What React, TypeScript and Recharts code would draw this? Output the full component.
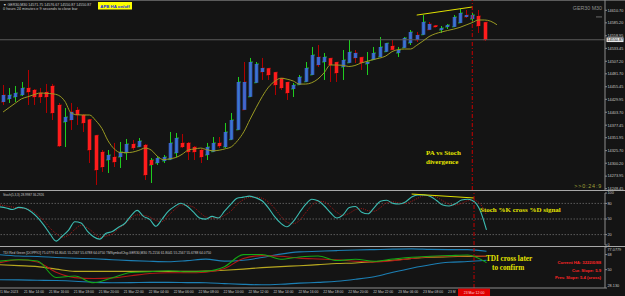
import React from "react";
import { ComposedChart, Bar, Line, XAxis, YAxis, ReferenceLine } from "recharts";

// GER30 M30 bars
const opens = [
  14424.5, 14430.6, 14434.6, 14438.7, 14452.9, 14448.9, 14442.8, 14444.8, 14457.0, 14418.4,
  14383.9, 14387.9, 14408.3, 14398.1, 14389.0, 14357.0, 14323.0, 14306.7, 14312.8, 14312.8,
  14320.9, 14339.2, 14333.5, 14337.2, 14306.7, 14300.6, 14304.7, 14307.5, 14320.9, 14341.3,
  14341.3, 14333.1, 14327.0, 14316.9, 14323.5, 14341.3, 14333.1, 14348.0, 14368.0, 14408.5,
  14435.0, 14463.5, 14485.4, 14493.0, 14485.0, 14473.0, 14465.0, 14450.9, 14459.5, 14465.5,
  14479.5, 14499.6, 14505.7, 14513.5, 14505.5, 14495.6, 14504.0, 14513.9, 14515.5, 14501.7,
  14510.0, 14516.0, 14526.5, 14538.2, 14524.0, 14534.5, 14544.3, 14550.4, 14561.0, 14571.0,
  14579.8, 14570.7, 14576.8, 14577.0, 14585.0, 14597.1, 14593.0, 14599.1, 14586.5,
];
const highs = [
  14459.0, 14452.9, 14457.0, 14465.1, 14489.5, 14450.9, 14452.9, 14461.1, 14461.1, 14422.5,
  14412.3, 14422.5, 14414.3, 14400.1, 14390.0, 14357.5, 14327.0, 14327.0, 14341.3, 14343.3,
  14349.4, 14347.4, 14351.4, 14339.2, 14310.8, 14314.8, 14316.9, 14363.6, 14361.6, 14359.5,
  14343.3, 14335.1, 14329.0, 14341.3, 14353.4, 14353.4, 14381.9, 14402.2, 14475.3, 14505.7,
  14513.9, 14505.7, 14513.9, 14493.5, 14485.4, 14473.2, 14465.1, 14463.1, 14479.3, 14505.7,
  14536.2, 14540.2, 14524.0, 14513.9, 14505.7, 14530.1, 14550.4, 14530.1, 14515.9, 14526.0,
  14536.2, 14556.5, 14544.3, 14550.4, 14536.2, 14556.5, 14570.7, 14566.6, 14601.1, 14586.9,
  14580.8, 14578.8, 14582.9, 14601.1, 14613.3, 14611.3, 14605.2, 14611.3, 14586.9,
];
const lows = [
  14418.4, 14422.5, 14424.5, 14436.7, 14418.4, 14418.4, 14422.5, 14402.2, 14387.9, 14333.1,
  14333.1, 14367.7, 14377.8, 14363.6, 14300.6, 14256.0, 14282.4, 14280.3, 14292.5, 14290.5,
  14306.7, 14327.0, 14333.1, 14266.1, 14260.0, 14296.6, 14300.6, 14306.7, 14312.8, 14331.1,
  14306.7, 14306.7, 14300.6, 14306.7, 14323.0, 14331.1, 14331.1, 14347.4, 14367.7, 14408.3,
  14434.6, 14463.1, 14469.2, 14469.2, 14438.7, 14448.9, 14428.6, 14434.6, 14459.0, 14465.1,
  14479.3, 14495.6, 14469.2, 14465.1, 14465.1, 14469.2, 14503.7, 14503.7, 14489.5, 14479.3,
  14509.8, 14515.9, 14526.0, 14530.1, 14515.9, 14534.2, 14540.2, 14546.3, 14560.5, 14570.7,
  14575.8, 14564.6, 14572.7, 14576.8, 14584.9, 14595.0, 14584.9, 14564.6, 14548.4,
];
const closes = [
  14438.7, 14438.7, 14442.8, 14452.9, 14444.8, 14434.6, 14434.6, 14434.6, 14402.2, 14335.1,
  14394.0, 14404.2, 14398.1, 14381.9, 14327.0, 14286.4, 14292.5, 14316.9, 14302.7, 14323.0,
  14339.2, 14331.1, 14345.3, 14276.3, 14296.6, 14310.8, 14312.8, 14341.3, 14351.4, 14333.1,
  14323.0, 14323.0, 14312.8, 14333.1, 14341.3, 14335.1, 14363.6, 14387.9, 14465.1, 14465.1,
  14505.7, 14501.7, 14493.5, 14479.3, 14459.0, 14452.9, 14442.8, 14459.0, 14475.3, 14493.5,
  14519.9, 14515.9, 14515.9, 14499.6, 14483.4, 14509.8, 14526.0, 14524.0, 14503.7, 14505.7,
  14524.0, 14536.2, 14544.0, 14530.5, 14530.1, 14554.5, 14566.6, 14560.5, 14586.9, 14582.9,
  14576.8, 14574.7, 14580.8, 14597.1, 14605.2, 14601.1, 14601.1, 14578.8, 14550.87,
];
// 1 = green (up) wick of the plain bar, 0 = red wick
const wickUp = [
  0, 1, 1, 1, 0, 0, 0, 0, 0, 0,
  1, 0, 0, 0, 0, 0, 0, 1, 0, 1,
  1, 0, 1, 0, 1, 1, 1, 1, 1, 0,
  0, 0, 0, 1, 1, 0, 1, 1, 1, 0,
  1, 1, 0, 0, 0, 0, 0, 1, 1, 1,
  1, 0, 1, 0, 0, 1, 1, 0, 0, 1,
  1, 1, 1, 0, 1, 1, 1, 0, 1, 0,
  0, 1, 1, 1, 1, 0, 1, 0, 0,
];
// shifted moving average (runs 2 bars past the last candle)
const maValues = [
  14404.2, 14413.3, 14422.3, 14431.0, 14435.1, 14439.3, 14442.8, 14442.0, 14441.1, 14437.9,
  14426.1, 14402.6, 14398.5, 14398.1, 14398.1, 14386.9, 14370.9, 14345.7, 14329.3, 14321.9,
  14321.7, 14322.8, 14326.4, 14330.9, 14326.8, 14314.2, 14307.4, 14309.2, 14311.8, 14318.3,
  14327.0, 14329.1, 14330.9, 14327.6, 14325.4, 14326.6, 14329.5, 14333.7, 14346.3, 14364.0,
  14389.2, 14413.3, 14435.9, 14454.7, 14466.5, 14472.8, 14470.8, 14467.1, 14460.9, 14460.9,
  14463.7, 14471.2, 14483.8, 14499.6, 14499.6, 14499.0, 14496.6, 14498.6, 14503.7, 14507.3,
  14510.8, 14513.6, 14517.9, 14526.8, 14530.9, 14532.1, 14532.1, 14539.6, 14548.1, 14557.3,
  14563.0, 14566.6, 14569.7, 14572.5, 14576.0, 14580.9, 14585.7, 14591.0, 14591.0, 14588.4,
  14581.3,
];
const priceTicks = [
  14610.7, 14585.2, 14558.95, 14533.45, 14507.2, 14481.7, 14455.45, 14429.95,
  14403.7, 14377.45, 14351.95, 14325.7, 14300.2, 14273.95, 14248.45,
];

// Stochastic(5,3,3)
const stochK = [
  73.3, 71.3, 68.3, 72.3, 70.6, 64.0, 53.1, 38.8, 21.7, 7.5,
  17.3, 28.7, 44.8, 42.3, 26.9, 16.0, 11.3, 22.5, 25.8, 34.0,
  41.3, 56.2, 66.5, 55.0, 49.2, 36.0, 50.0, 65.2, 74.2, 80.4,
  74.4, 63.7, 52.1, 49.8, 55, 52, 65, 78, 90, 92,
  94, 91, 85, 72, 55, 42, 35, 45, 62, 78,
  88, 85, 75, 62, 52, 58, 72, 74, 63, 60,
  72, 84, 86, 80, 78.8, 82.7, 92.3, 96.2, 96.2, 93.3,
  85.6, 76.9, 75.0, 79.2, 86.5, 87.9, 83.8, 66.0, 29.0,
];
const stochD = [
  77, 75, 73, 71, 70, 67, 58, 47, 33, 22,
  15, 19, 30, 38, 33, 24, 15, 17, 21, 31,
  40, 52, 58, 57, 54, 47, 45, 57, 68, 77,
  76, 73, 63, 54, 52, 52, 57, 65, 78, 87,
  92, 92, 90, 83, 71, 56, 44, 41, 47, 62,
  76, 84, 83, 74, 63, 57, 61, 68, 70, 66,
  65, 72, 81, 83, 81, 80, 84, 90, 95, 95,
  92, 85, 79, 77, 80, 85, 86, 79, 58,
];

// TDI, sampled every third bar
const tdiBars = [0, 3, 6, 9, 12, 15, 18, 21, 24, 27, 30, 33, 36, 39, 42, 45, 48, 51, 54, 57, 60, 63, 66, 69, 72, 75, 78];
const tdiUpper = [67.9, 66.3, 65.7, 64.6, 63.7, 63.0, 61.9, 60.8, 60.0, 59.5, 60.8, 62.6, 60.2, 61.2, 64.6, 68.6, 71.2, 72.0, 72.8, 73.5, 74.0, 74.5, 74.8, 74.2, 74.0, 74.0, 72.0];
const tdiLower = [38.0, 37.8, 37.4, 37.0, 36.2, 34.9, 34.4, 34.5, 34.8, 34.8, 34.6, 34.4, 33.4, 32.5, 32.0, 32.6, 33.9, 34.9, 36.1, 38.5, 41.6, 46.9, 51.8, 55.9, 58.8, 59.7, 61.2];
const tdiBase = [55.9, 54.8, 53.7, 50.7, 48.0, 48.0, 48.0, 48.0, 48.0, 48.0, 48.0, 48.3, 49.4, 50.7, 52.4, 53.7, 54.7, 56.0, 57.3, 58.0, 59.5, 61.2, 63.4, 64.8, 65.5, 65.8, 66.0];
const tdiRsi = [60.2, 61.8, 60.3, 40.6, 42.4, 34.4, 40.4, 46.6, 47.5, 48.8, 47.6, 48.2, 53.6, 68.0, 68.2, 62.5, 65.2, 66.4, 61.0, 62.5, 60.1, 62.7, 64.9, 66.0, 66.8, 67.6, 58.4];
const tdiSignal = [58.4, 61.9, 59.2, 46.9, 40.5, 39.4, 40.2, 42.7, 45.4, 46.4, 46.3, 47.0, 51.4, 63.4, 66.8, 66.0, 63.8, 62.8, 61.9, 60.1, 59.2, 60.7, 63.3, 65.4, 66.1, 66.7, 66.0];
const tdiMax = 77.0779;
const tdiMin = 28.13;

// time axis: a label every 4 bars, the cursor bar is highlighted
const timeLabels = [
  "21 Mar 2023", "21 Mar 14:00", "21 Mar 16:00", "21 Mar 18:00", "21 Mar 20:00",
  "21 Mar 22:00", "22 Mar 04:00", "22 Mar 06:00", "22 Mar 08:00", "22 Mar 10:00",
  "22 Mar 12:00", "22 Mar 14:00", "22 Mar 16:00", "22 Mar 18:00", "22 Mar 20:00",
  "22 Mar 22:00", "23 Mar 06:00", "23 Mar 08:00", "23 Mar 10:00",
];
const cursorBar = 76;
const cursorLabel = "23 Mar 12:00";

const SLOTS = 98;
const PLOT_W = 605;
const FONT = "'Liberation Sans', Arial, sans-serif";
const SERIF = "'Liberation Serif', 'Times New Roman', serif";
const TXT = "#c8c8c8";
const AXIS = "#8c8c8c";
const CURSOR = "#c80000";

const rows = Array.from({ length: SLOTS }, (_, i) => {
  const r: any = { i };
  if (i < opens.length) {
    r.range = [lows[i], highs[i]];
    r.o = opens[i];
    r.h = highs[i];
    r.l = lows[i];
    r.c = closes[i];
    r.wu = wickUp[i];
  }
  if (i < maValues.length) r.ma = maValues[i];
  if (i < stochK.length) {
    r.k = stochK[i];
    r.d = stochD[i];
  }
  const t = tdiBars.indexOf(i);
  if (t >= 0) {
    r.up = tdiUpper[t];
    r.lo = tdiLower[t];
    r.base = tdiBase[t];
    r.rsi = tdiRsi[t];
    r.sig = tdiSignal[t];
  }
  return r;
});

const timeTicks = [...timeLabels.map((_, k) => k * 4), cursorBar];

function Candle(props: any) {
  const { x, y, width, height, payload } = props;
  if (!payload || payload.range == null) return null;
  const top = Math.min(y, y + height);
  const h = Math.abs(height);
  const k = h / (payload.h - payload.l);
  const cx = Math.round(x + width / 2) + 0.5;
  const y1 = top + (payload.h - Math.max(payload.o, payload.c)) * k;
  const y2 = top + (payload.h - Math.min(payload.o, payload.c)) * k;
  const bull = payload.c >= payload.o;
  const wick = payload.wu ? "#1fcc1f" : "#b00000";
  return (
    <g>
      <line x1={cx} x2={cx} y1={top} y2={top + h} stroke={wick} strokeWidth={1} />
      <line x1={cx - 2.5} x2={cx} y1={y2} y2={y2} stroke={wick} strokeWidth={0.8} />
      <line x1={cx} x2={cx + 2.5} y1={y1} y2={y1} stroke={wick} strokeWidth={0.8} />
      <rect
        x={cx - 1.8}
        y={y1}
        width={3.6}
        height={Math.max(y2 - y1, 1)}
        fill={bull ? "#3f6fe2" : "#ff1c1c"}
        fillOpacity={bull ? 0.88 : 1}
      />
    </g>
  );
}

function TimeTick(props: any) {
  const { x, y, payload } = props;
  const v = payload.value;
  if (v === cursorBar) {
    return (
      <g>
        <rect x={x - 16} y={y + 0.6} width={32} height={7.4} fill="#e00000" />
        <text x={x} y={y + 5.6} textAnchor="middle" fontSize={3.5} fill="#ffd8d8" fontFamily={FONT}>
          {cursorLabel}
        </text>
      </g>
    );
  }
  // the label just before the cursor slides under the cursor box: only its visible start is shown
  let label = timeLabels[v / 4];
  if (v + 4 === cursorBar) {
    const room = ((cursorBar - v) * PLOT_W) / SLOTS - 16;
    label = label.slice(0, Math.floor(room / 1.9));
  }
  return (
    <text x={x - 1} y={y + 5.4} textAnchor="start" fontSize={3.4} fill={TXT} fontFamily={FONT}>
      {label}
    </text>
  );
}

function TdiTick(props: any) {
  const { x, y, payload } = props;
  const v = payload.value;
  let label = String(v);
  let dy = 0;
  if (v === tdiMax) {
    label = tdiMax.toFixed(4);
    dy = 2.4;
  } else if (v === tdiMin) {
    label = tdiMin.toFixed(3);
    dy = -2.6;
  }
  return (
    <text x={x} y={y + dy} dy="0.35em" fontSize={3.8} fill={TXT} fontFamily={FONT}>
      {label}
    </text>
  );
}

function PriceTag(props: any) {
  const vb = props.viewBox || {};
  const x0 = vb.x + vb.width + 1.5;
  return (
    <g>
      <rect x={x0} y={vb.y - 2.3} width={17} height={4.6} fill="#e8e8e8" />
      <text x={x0 + 0.8} y={vb.y + 1.4} fontSize={3.8} fill="#000" fontFamily={FONT}>
        {closes[closes.length - 1].toFixed(2)}
      </text>
    </g>
  );
}

const tickStyle = { fontSize: 3.8, fill: TXT, fontFamily: FONT };

export default function App() {
  return (
    <div
      style={{
        position: "absolute",
        left: 0,
        top: 0,
        width: 625,
        height: 296,
        background: "#141414",
        overflow: "hidden",
      }}
    >
      <div style={{ position: "absolute", left: 0, top: 0, width: 625, height: 1, background: "#5c5c5c" }} />

      {/* price window */}
      <div style={{ position: "absolute", left: 0, top: 0 }}>
        <ComposedChart width={625} height={190} data={rows} margin={{ top: 0, right: 0, bottom: 0, left: 0 }}>
          <XAxis dataKey="i" type="category" hide />
          <YAxis
            orientation="right"
            width={20}
            domain={[14245.8, 14631.6]}
            allowDataOverflow
            ticks={priceTicks}
            interval={0}
            tickFormatter={(v: number) => v.toFixed(2)}
            tick={tickStyle}
            tickSize={2}
            tickMargin={0.5}
            stroke={AXIS}
          />
          <ReferenceLine y={closes[closes.length - 1]} stroke="#5a5a5a" strokeWidth={1} label={PriceTag} />
          <Bar dataKey="range" barSize={4} shape={Candle} activeBar={false} isAnimationActive={false} />
          <Line
            dataKey="ma"
            type="monotone"
            stroke="#9a9a22"
            strokeWidth={1}
            dot={false}
            activeDot={false}
            isAnimationActive={false}
          />
          <ReferenceLine
            segment={[
              { x: 67, y: 14601 },
              { x: 76, y: 14617.4 },
            ]}
            stroke="#e0e000"
            strokeWidth={1}
          />
          <ReferenceLine x={cursorBar} stroke={CURSOR} strokeDasharray="4 2 1 2" strokeWidth={1} />
        </ComposedChart>
      </div>

      <div style={{ position: "absolute", left: 0, top: 190, width: 625, height: 1, background: "#a8a8a8" }} />

      {/* stochastic window */}
      <div style={{ position: "absolute", left: 0, top: 191 }}>
        <ComposedChart width={625} height={55} data={rows} margin={{ top: 2, right: 0, bottom: 1, left: 0 }}>
          <XAxis dataKey="i" type="category" hide />
          <YAxis
            orientation="right"
            width={20}
            domain={[0, 100]}
            ticks={[0, 20, 50, 80, 100]}
            interval={0}
            tick={tickStyle}
            tickSize={2}
            tickMargin={0.5}
            stroke={AXIS}
          />
          {[80, 50, 20].map((lv) => (
            <ReferenceLine key={lv} y={lv} stroke="#8a8a8a" strokeWidth={0.6} strokeDasharray="1.5 1.5" />
          ))}
          <Line
            dataKey="d"
            type="monotone"
            stroke="#a81414"
            strokeWidth={1}
            strokeDasharray="1 1.2"
            dot={false}
            activeDot={false}
            isAnimationActive={false}
          />
          <Line
            dataKey="k"
            type="monotone"
            stroke="#3cbcb2"
            strokeWidth={1.1}
            dot={false}
            activeDot={false}
            isAnimationActive={false}
          />
          <ReferenceLine
            segment={[
              { x: 66, y: 98 },
              { x: 76, y: 90.4 },
            ]}
            stroke="#e0e000"
            strokeWidth={1}
          />
          <ReferenceLine x={cursorBar} stroke={CURSOR} strokeDasharray="4 2 1 2" strokeWidth={1} />
        </ComposedChart>
      </div>

      <div style={{ position: "absolute", left: 0, top: 246, width: 625, height: 1, background: "#a8a8a8" }} />

      {/* TDI window + time axis */}
      <div style={{ position: "absolute", left: 0, top: 247 }}>
        <ComposedChart width={625} height={49} data={rows} margin={{ top: 0, right: 0, bottom: 0, left: 0 }}>
          <XAxis
            dataKey="i"
            type="category"
            height={8}
            ticks={timeTicks}
            interval={0}
            tick={TimeTick}
            tickLine={false}
            tickSize={0}
            tickMargin={0}
            stroke={AXIS}
          />
          <YAxis
            orientation="right"
            width={20}
            domain={[tdiMin, tdiMax]}
            allowDataOverflow
            ticks={[tdiMin, 50, 68, tdiMax]}
            interval={0}
            tick={TdiTick}
            tickSize={2}
            tickMargin={0.5}
            stroke={AXIS}
          />
          <Line dataKey="up" type="monotone" connectNulls stroke="#1c7fb4" strokeWidth={1.1} dot={false} activeDot={false} isAnimationActive={false} />
          <Line dataKey="lo" type="monotone" connectNulls stroke="#1c7fb4" strokeWidth={1.1} dot={false} activeDot={false} isAnimationActive={false} />
          <Line dataKey="base" type="monotone" connectNulls stroke="#b8a820" strokeWidth={1.1} dot={false} activeDot={false} isAnimationActive={false} />
          <Line dataKey="sig" type="monotone" connectNulls stroke="#b41818" strokeWidth={1.1} dot={false} activeDot={false} isAnimationActive={false} />
          <Line dataKey="rsi" type="monotone" connectNulls stroke="#14a814" strokeWidth={1.1} dot={false} activeDot={false} isAnimationActive={false} />
          <ReferenceLine x={cursorBar} stroke={CURSOR} strokeDasharray="4 2 1 2" strokeWidth={1} />
        </ComposedChart>
      </div>

      {/* terminal texts and annotations */}
      <svg width={625} height={296} style={{ position: "absolute", left: 0, top: 0, pointerEvents: "none" }}>
        <g fontFamily={FONT} fill={TXT}>
          <text x={3} y={5.6} fontSize={3.6}>▼ GER30,M30  14571.75 14576.67 14550.87 14550.87</text>
          <text x={3} y={10.2} fontSize={3.8}>0 hours 24 minutes e 9 seconds to close bar</text>
          <rect x={98} y={2} width={34} height={7.5} fill="#ffff00" />
          <text x={115} y={7.5} textAnchor="middle" fontSize={4.3} fontWeight="bold" fill="#1428e0">APB HA on/off</text>
          <text x={602} y={10} textAnchor="end" fontSize={5.3} fill="#8e8e8e">GER30 M30</text>
          <rect x={596} y={16.6} width={6} height={0.7} fill="#8e8e8e" />
          <text x={602} y={188} textAnchor="end" fontSize={5.4} fill="#a4a43a" letterSpacing={0.8}>&gt;&gt;0:24:9</text>
          <text x={3} y={196.2} fontSize={3.1}>Stoch(5,3,3) 28.9987 36.2926</text>
          <text x={3} y={253.6} fontSize={3.3}>
            TDI Red Green [DOPPIO] 75.0779 61.8041 55.2567 55.6788 64.0750   TMSymbolChg-GER30,M30 75.2156 61.8041 55.2567 55.6788 64.0750
          </text>
        </g>
        <g fontFamily={SERIF} fontWeight="bold" fill="#e4e400">
          <text x={426} y={155} fontSize={7}>PA vs Stoch</text>
          <text x={426} y={163.6} fontSize={7}>divergence</text>
          <text x={480} y={212} fontSize={7}>Stoch %K cross %D signal</text>
          <text x={486} y={260.5} fontSize={7.2}>TDI cross later</text>
          <text x={492} y={269.5} fontSize={7.2}>to confirm</text>
        </g>
        <g fontFamily={FONT} fontWeight="bold" fill="#ff2626" fontSize={4.2} textAnchor="end">
          <text x={601} y={264}>Current HA: 3222/0/88</text>
          <text x={601} y={272}>Cur. Slope: 5.9</text>
          <text x={601} y={279}>Prev. Slope: 5.4 (cross)</text>
        </g>
      </svg>
    </div>
  );
}
